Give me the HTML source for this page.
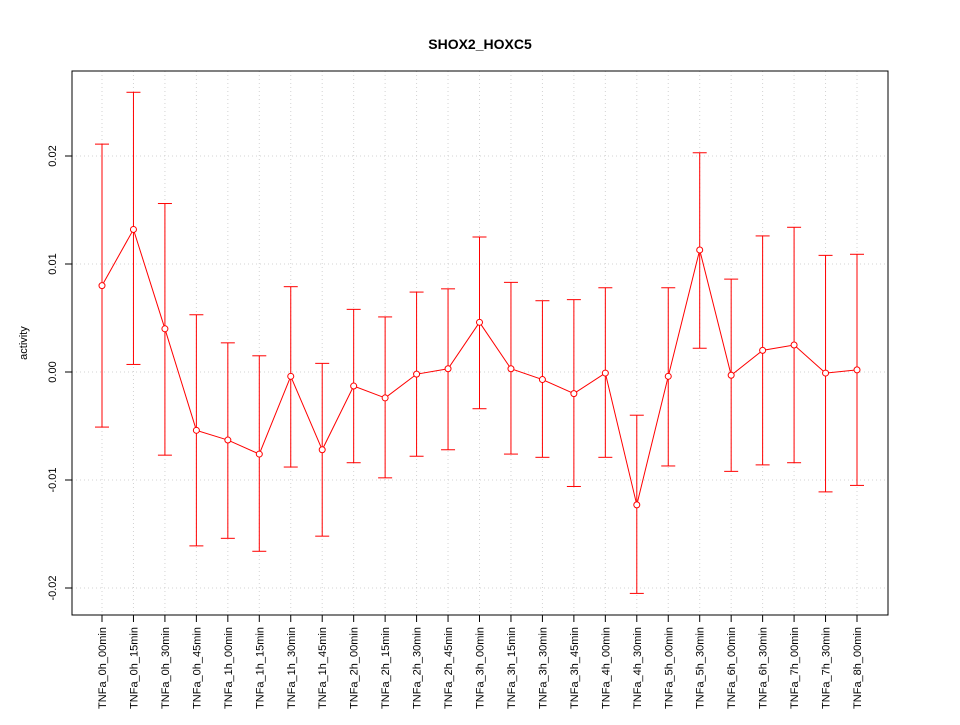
<!DOCTYPE html>
<html><head><meta charset="utf-8"><style>
body{margin:0;background:#fff}
svg{font-family:"Liberation Sans",sans-serif}
</style></head><body>
<svg id="chart" width="960" height="720"></svg>
<script>
const categories=["TNFa_0h_00min","TNFa_0h_15min","TNFa_0h_30min","TNFa_0h_45min","TNFa_1h_00min","TNFa_1h_15min","TNFa_1h_30min","TNFa_1h_45min","TNFa_2h_00min","TNFa_2h_15min","TNFa_2h_30min","TNFa_2h_45min","TNFa_3h_00min","TNFa_3h_15min","TNFa_3h_30min","TNFa_3h_45min","TNFa_4h_00min","TNFa_4h_30min","TNFa_5h_00min","TNFa_5h_30min","TNFa_6h_00min","TNFa_6h_30min","TNFa_7h_00min","TNFa_7h_30min","TNFa_8h_00min"];
const values=[0.008,0.0132,0.004,-0.0054,-0.0063,-0.0076,-0.0004,-0.0072,-0.0013,-0.0024,-0.0002,0.0003,0.0046,0.0003,-0.0007,-0.002,-0.0001,-0.0123,-0.0004,0.0113,-0.0003,0.002,0.0025,-0.0001,0.0002];
const upper=[0.0211,0.0259,0.0156,0.0053,0.0027,0.0015,0.0079,0.0008,0.0058,0.0051,0.0074,0.0077,0.0125,0.0083,0.0066,0.0067,0.0078,-0.004,0.0078,0.0203,0.0086,0.0126,0.0134,0.0108,0.0109];
const lower=[-0.0051,0.0007,-0.0077,-0.0161,-0.0154,-0.0166,-0.0088,-0.0152,-0.0084,-0.0098,-0.0078,-0.0072,-0.0034,-0.0076,-0.0079,-0.0106,-0.0079,-0.0205,-0.0087,0.0022,-0.0092,-0.0086,-0.0084,-0.0111,-0.0105];
const yTicks=[-0.02,-0.01,0,0.01,0.02];
const yTickLabels=["-0.02","-0.01","0.00","0.01","0.02"];
const NS="http://www.w3.org/2000/svg";
const svg=document.getElementById('chart');
const L=72,R=888,T=71,B=615;
const x=i=>102+i*(857-102)/(categories.length-1);
const y=v=>372-v*10800;
function mk(tag,attrs,parent){const e=document.createElementNS(NS,tag);for(const k in attrs)e.setAttribute(k,attrs[k]);(parent||svg).appendChild(e);return e;}
// grid
categories.forEach((c,i)=>{const g=mk('line',{x1:x(i),x2:x(i),y1:T,y2:B,stroke:'#d3d3d3','stroke-dasharray':'1,3'});

});
yTicks.forEach(v=>{const g=mk('line',{x1:L,x2:R,y1:y(v),y2:y(v),stroke:'#d3d3d3','stroke-dasharray':'1,3'});

});
// frame
const fr=mk('rect',{x:L,y:T,width:R-L,height:B-T,fill:'none',stroke:'#000'});


// y axis
yTicks.forEach((v,i)=>{mk('line',{x1:L-7,x2:L,y1:y(v),y2:y(v),stroke:'#000'});
const t=mk('text',{x:L-16,y:y(v),'font-size':11,'text-anchor':'middle',transform:`rotate(-90 ${L-16} ${y(v)})`});t.textContent=yTickLabels[i];

});
// x axis
categories.forEach((c,i)=>{mk('line',{x1:x(i),x2:x(i),y1:B,y2:B+7,stroke:'#000'});
const t=mk('text',{x:x(i)+4,y:B+12,'font-size':11,'text-anchor':'end',transform:`rotate(-90 ${x(i)+4} ${B+12})`});t.textContent=c;

});
// error bars
categories.forEach((c,i)=>{const g=mk('g',{stroke:'#ff0000'});


mk('line',{x1:x(i),x2:x(i),y1:y(upper[i]),y2:y(lower[i])},g);
mk('line',{x1:x(i)-7,x2:x(i)+7,y1:y(upper[i]),y2:y(upper[i])},g);
mk('line',{x1:x(i)-7,x2:x(i)+7,y1:y(lower[i]),y2:y(lower[i])},g);});
// line
const pl=mk('polyline',{points:values.map((v,i)=>x(i)+','+y(v)).join(' '),fill:'none',stroke:'#ff0000'});


values.forEach((v,i)=>{const p=mk('circle',{cx:x(i),cy:y(v),r:3,fill:'#fff',stroke:'#ff0000'});

});
const ti=mk('text',{x:480,y:49,'font-size':14,'font-weight':'bold','text-anchor':'middle'});ti.textContent='SHOX2_HOXC5';


const yl=mk('text',{x:27,y:343,'font-size':11,'text-anchor':'middle',transform:'rotate(-90 27 343)'});yl.textContent='activity';


</script>
</body></html>
